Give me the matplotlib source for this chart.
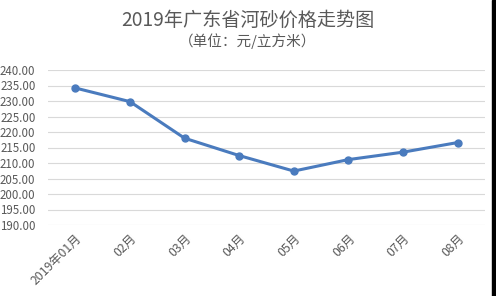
import matplotlib.pyplot as plt
from matplotlib.patches import Rectangle

plt.rcParams['font.family'] = ['Noto Sans CJK SC', 'DejaVu Sans']

# 数据
months = ['2019年01月', '02月', '03月', '04月', '05月', '06月', '07月', '08月']
prices = [234.2, 229.8, 218.0, 212.4, 207.4, 211.1, 213.5, 216.6]
y_ticks = [190, 195, 200, 205, 210, 215, 220, 225, 230, 235, 240]

fig = plt.figure(figsize=(4.96, 2.96), dpi=100)
ax = fig.add_axes([48 / 496, 1 - 225 / 296, 437 / 496, 155 / 296])

x = range(len(months))
ax.plot(x, prices, color='#4A7BBE', linewidth=2.2, marker='o', markersize=5)

ax.set_xlim(-0.5, len(months) - 0.5)
ax.set_ylim(190, 240)
ax.set_yticks(y_ticks)
ax.set_yticklabels([f'{v:.2f}' for v in y_ticks])
ax.set_xticks(list(x))
ax.set_xticklabels(months, rotation=45, ha='right', rotation_mode='anchor')

ax.tick_params(axis='both', length=0, colors='#595959')
ax.tick_params(axis='y', labelsize=8.3, pad=9)
ax.tick_params(axis='x', labelsize=8.8, pad=5)
ax.grid(axis='y', color='#D9D9D9', linewidth=0.8)
ax.set_axisbelow(True)
for s in ax.spines.values():
    s.set_visible(False)

fig.text(0.5, 1 - 20 / 296, '2019年广东省河砂价格走势图', ha='center', va='center',
         fontsize=13.8, color='#595959')
fig.text(0.5, 1 - 41 / 296, '（单位：元/立方米）', ha='center', va='center',
         fontsize=10.5, color='#595959')

# 右侧黑边
fig.add_artist(Rectangle((492 / 496, 0), 4 / 496, 1, transform=fig.transFigure,
                         color='black'))

fig.savefig('out.png', dpi=100)
